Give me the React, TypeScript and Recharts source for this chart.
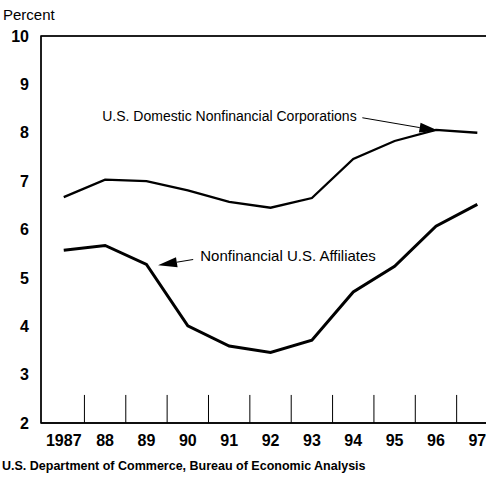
import { LineChart, Line, XAxis, YAxis, ReferenceLine, ReferenceDot, ReferenceArea } from 'recharts'

const years = [1987, 1988, 1989, 1990, 1991, 1992, 1993, 1994, 1995, 1996, 1997]
const domestic = [6.67, 7.03, 7.0, 6.81, 6.57, 6.45, 6.65, 7.46, 7.83, 8.06, 8.0]
const affiliates = [5.57, 5.67, 5.28, 4.01, 3.59, 3.46, 3.71, 4.71, 5.24, 6.07, 6.52]
const yTicks = [2, 3, 4, 5, 6, 7, 8, 9, 10]
const dividerTicks = [1987.5, 1988.5, 1989.5, 1990.5, 1991.5, 1992.5, 1993.5, 1994.5, 1995.5, 1996.5]

const data = years.map((year, i) => ({ year, domestic: domestic[i], affiliates: affiliates[i] }))

const font = '"Liberation Sans", Arial, Helvetica, sans-serif'
const xDomain: [number, number] = [1986.45, 1997.5]

// arrow: line from tail to tip, filled head at the tip
const Arrow = (props: any) => {
  const x1 = Number(props.x1), y1 = Number(props.y1), x2 = Number(props.x2), y2 = Number(props.y2)
  const dx = x2 - x1
  const dy = y2 - y1
  const len = Math.sqrt(dx * dx + dy * dy) || 1
  const ux = dx / len
  const uy = dy / len
  const headLen = 19
  const headW = 5
  const bx = x2 - ux * headLen
  const by = y2 - uy * headLen
  const pts = `${x2},${y2} ${bx - uy * headW},${by + ux * headW} ${bx + uy * headW},${by - ux * headW}`
  return (
    <g>
      <line x1={x1} y1={y1} x2={bx} y2={by} stroke="#000" strokeWidth={1} />
      <polygon points={pts} fill="#000" />
    </g>
  )
}

const noteText = (text: string, size: number) => (props: any) => (
  <text x={props.cx} y={props.cy} fontSize={size} fontFamily={font} fill="#000">{text}</text>
)

export default function App() {
  return (
    <div style={{ position: 'absolute', left: 0, top: 0, width: 486, height: 478, overflow: 'hidden', background: '#fff', fontFamily: font }}>
      <div style={{ position: 'absolute', left: 3, top: 6, fontSize: 15, color: '#000' }}>Percent</div>
      <LineChart width={500} height={478} data={data} margin={{ top: 35, right: 2, bottom: 25, left: 0 }}>
        <XAxis xAxisId="top" orientation="top" type="number" dataKey="year" domain={xDomain} height={1} tick={false} tickLine={false} axisLine={{ stroke: '#000' }} />
        <XAxis
          xAxisId="labels"
          type="number"
          dataKey="year"
          domain={xDomain}
          ticks={years}
          height={30}
          axisLine={{ stroke: '#000', strokeWidth: 1.5 }}
          tickLine={false}
          tickSize={0}
          tickMargin={12}
          interval={0}
          tickFormatter={(v: number) => (v === 1987 ? '1987' : String(v).slice(2))}
          tick={{ fill: '#000', fontSize: 16, fontWeight: 700, fontFamily: font }}
        />
        <YAxis
          type="number"
          domain={[2, 10]}
          ticks={yTicks}
          width={41}
          interval={0}
          tickLine={false}
          tickSize={0}
          tickMargin={12}
          axisLine={{ stroke: '#000' }}
          tick={{ fill: '#000', fontSize: 16, fontWeight: 700, fontFamily: font }}
        />
        <ReferenceArea xAxisId="labels" x1={xDomain[0]} x2={xDomain[1]} y1={2} y2={10} fill="none" fillOpacity={0} stroke="#000" strokeWidth={1.5} strokeOpacity={1} ifOverflow="visible" />
        {dividerTicks.map((t) => (
          <ReferenceLine key={t} xAxisId="labels" segment={[{ x: t, y: 2 }, { x: t, y: 2.58 }]} stroke="#000" strokeWidth={1} />
        ))}
        <Line xAxisId="labels" dataKey="domestic" stroke="#000" strokeWidth={2.3} dot={false} isAnimationActive={false} />
        <Line xAxisId="labels" dataKey="affiliates" stroke="#000" strokeWidth={3} dot={false} isAnimationActive={false} />
        <ReferenceLine xAxisId="labels" segment={[{ x: 1994.22, y: 8.31 }, { x: 1996.06, y: 8.04 }]} shape={Arrow} ifOverflow="visible" />
        <ReferenceLine xAxisId="labels" segment={[{ x: 1990.13, y: 5.38 }, { x: 1989.28, y: 5.26 }]} shape={Arrow} ifOverflow="visible" />
        <ReferenceDot xAxisId="labels" x={1987.93} y={8.25} r={0} shape={noteText('U.S. Domestic Nonfinancial Corporations', 14)} ifOverflow="visible" />
        <ReferenceDot xAxisId="labels" x={1990.3} y={5.34} r={0} shape={noteText('Nonfinancial U.S. Affiliates', 15)} ifOverflow="visible" />
      </LineChart>
      <div style={{ position: 'absolute', left: 2, top: 459, fontSize: 12.5, fontWeight: 700, color: '#000', whiteSpace: 'nowrap' }}>
        U.S. Department of Commerce, Bureau of Economic Analysis
      </div>
    </div>
  )
}
